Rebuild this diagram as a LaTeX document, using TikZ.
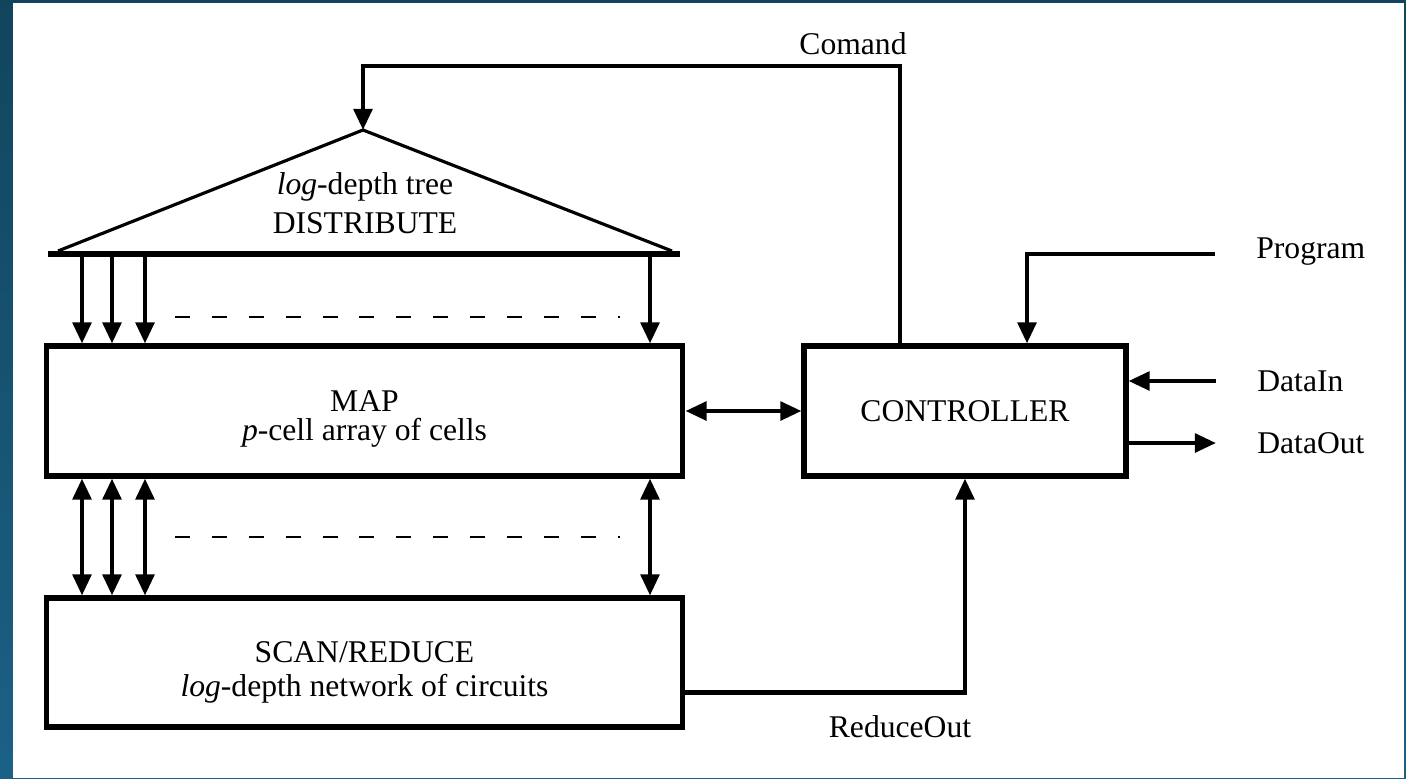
\documentclass[tikz,border=0pt]{standalone}
\usepackage{fontspec}
\setmainfont{Liberation Serif}
\usetikzlibrary{arrows.meta, positioning, calc}
\definecolor{frametop}{HTML}{12455D}
\definecolor{framebot}{HTML}{1B6186}

\begin{document}
\begin{tikzpicture}[
    x=0.02cm, y=-0.02cm,
    font=\fontsize{18}{18}\selectfont,
    block/.style={draw, line width=2.9pt, align=center, inner sep=0pt},
    flow/.style={-{Triangle[length=12pt, width=10.5pt]}, line width=2.5pt},
    both/.style={{Triangle[length=12pt, width=10.5pt]}-{Triangle[length=12pt, width=10.5pt]},
                 line width=2.5pt},
    gap/.style={dash pattern=on 8.5pt off 12.5pt, line width=0.8pt},
    lbl/.style={inner sep=0pt},
]
% frame
\shade[top color=frametop, bottom color=framebot] (0,0) rectangle (1406,778);
\fill[white] (13,3) rectangle (1404,778);

% the three stages
\node[block, minimum width=12.74cm, minimum height=2.6cm] (map) at (364.5,411)
   {\rule{0pt}{21pt}MAP\\[-1.5pt] \textit{p}-cell array of cells};
\node[block, minimum width=12.74cm, minimum height=2.58cm] (scan) at (364.5,662.5)
   {\rule{0pt}{23pt}SCAN/REDUCE\\[1.5pt] \textit{log}-depth network of circuits};
\node[block, minimum width=6.44cm, minimum height=2.6cm] (ctrl) at (965,411)
   {CONTROLLER};

% distribute tree
\coordinate (apex) at (363,130);
\coordinate (bl) at (48,254);
\coordinate (br) at (680,254);
\draw[line width=1.8pt, line join=miter] (58,251) -- (apex) -- (672,251);
\draw[line width=2.9pt] (bl) -- (br);
\node[lbl, align=center] (tree) at (365,203) {\textit{log}-depth tree\\[4pt] DISTRIBUTE};

% tree to map, map to scan
\foreach \x in {82,112,145,650}
  \draw[flow] (\x,0 |- bl) -- (\x,0 |- map.north);
\foreach \x in {82,112,145,650}
  \draw[both] (\x,0 |- map.south) -- (\x,0 |- scan.north);
\draw[gap] (175,317) -- (620,317);
\draw[gap] (175,537) -- (620,537);

% labels
\node[lbl] (cmd) at (853,44) {Comand};
\node[lbl, anchor=west] (program) at (1256,252) {Program};
\node[lbl, anchor=west] (datain) at (1257,381) {DataIn};
\node[lbl, anchor=west] (dataout) at (1257,443) {DataOut};
\node[lbl] (redout) at (900,727) {ReduceOut};

% controller links
\draw[both] (map.east) -- (ctrl.west);
\draw[flow] ($(ctrl.north)+(-65,0)$) |- ($(apex)+(0,-64)$) -- (apex);
\draw[flow] ($(program.west)+(-41,2)$) -| ($(ctrl.north)+(62,0)$);
\draw[flow] ($(datain.west)+(-41,0)$) -- (ctrl.east |- datain.west);
\draw[flow] (ctrl.east |- dataout.west) -- ($(dataout.west)+(-41,0)$);
\draw[flow] ($(scan.east)+(0,30)$) -| (ctrl.south);
\end{tikzpicture}
\end{document}
